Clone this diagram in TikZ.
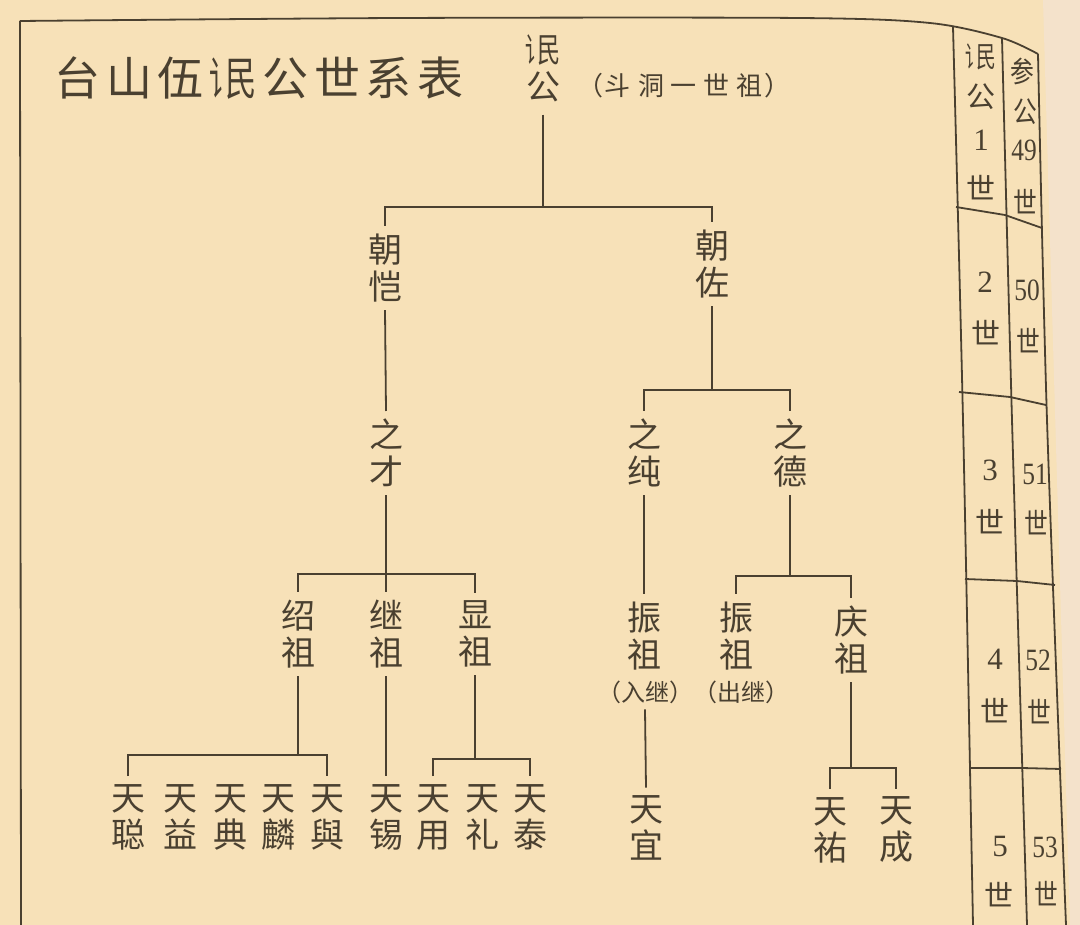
\documentclass[tikz,border=0pt]{standalone}
\usepackage{fontspec}
\usepackage{graphicx}
\newfontfamily\cjk{Noto Sans CJK SC}
\newfontfamily\numf{Liberation Serif}
\definecolor{paper}{HTML}{F7E1B8}
\definecolor{pageedge}{HTML}{F4E2CB}
\definecolor{ink}{HTML}{4A4030}
\newcommand\minchar{\mbox{\scalebox{0.55}[1]{讠}\hspace{-0.19em}\scalebox{0.68}[1]{民}}}
\newcommand\tsp{\hspace{5.5pt}}
\newcommand\nsp{\hspace{7pt}}
\tikzset{
  nm/.style={font=\cjk\fontsize{34}{37}\selectfont, text=ink, align=center, inner sep=0pt, outer sep=8pt},
  paren/.style={font=\cjk\fontsize{24}{24}\selectfont, text=ink, inner sep=0pt, outer sep=6pt},
  ln/.style={draw=ink, line width=1.8pt},
  tbt/.style={font=\cjk\fontsize{29}{29}\selectfont, text=ink, inner sep=0pt},
  tbn/.style={font=\numf\fontsize{31}{31}\selectfont, text=ink, inner sep=0pt},
  narrow/.style={xscale=0.82, transform shape}
}
\begin{document}
\begin{tikzpicture}[x=1pt,y=-1pt]
\useasboundingbox (0,0) rectangle (1080,925);
\fill[paper] (0,0) rectangle (1080,925);
\fill[pageedge] (1043,0) -- (1080,0) -- (1080,925) -- (1070,925) -- cycle;

% frame and generation table
\draw[ln] (21,925) -- (20,21);
\draw[ln] plot[smooth] coordinates {(20,21) (400,18) (800,18) (930,23) (1002,38) (1038,54)};
\draw[ln] plot[smooth] coordinates {(953,27) (963,420) (973,925)};
\draw[ln] plot[smooth] coordinates {(1002,38) (1012,420) (1027,925)};
\draw[ln] plot[smooth] coordinates {(1038,54) (1047,420) (1066,925)};
\draw[ln] (956,207) -- (1005,215) -- (1042,228);
\draw[ln] (959,392) -- (1010,397) -- (1046,405);
\draw[ln] (965,579) -- (1017,581) -- (1055,585);
\draw[ln] (970,768) -- (1022,768) -- (1061,769);

% table texts, column 1
\node[tbt] (a1) at (981,57) {\minchar};
\node[tbt] (a2) at (981,97) {公};
\node[tbn] (a3) at (981,140) {1};
\node[tbt] (a4) at (981,188) {世};
\node[tbn] (a5) at (985,282) {2};
\node[tbt] (a6) at (986,333) {世};
\node[tbn] (a7) at (990,470) {3};
\node[tbt] (a8) at (990,522) {世};
\node[tbn] (a9) at (995,659) {4};
\node[tbt] (a10) at (995,711) {世};
\node[tbn] (a11) at (1000,846) {5};
\node[tbt] (a12) at (999,895) {世};
% column 2
\node[tbt,narrow] (b1) at (1022,71) {参};
\node[tbt,narrow] (b2) at (1025,112) {公};
\node[tbn,narrow] (b3) at (1024,150) {49};
\node[tbt,narrow] (b4) at (1025,202) {世};
\node[tbn,narrow] (b5) at (1027,290) {50};
\node[tbt,narrow] (b6) at (1028,341) {世};
\node[tbn,narrow] (b7) at (1035,474) {51};
\node[tbt,narrow] (b8) at (1036,523) {世};
\node[tbn,narrow] (b9) at (1038,660) {52};
\node[tbt,narrow] (b10) at (1039,712) {世};
\node[tbn,narrow] (b11) at (1045,847) {53};
\node[tbt,narrow] (b12) at (1046,894) {世};

% title
\node[font=\cjk\fontsize{46}{46}\selectfont, text=ink, inner sep=0pt] (title) at (259,78)
  {台\tsp{}山\tsp{}伍\tsp{}\minchar{}\tsp{}公\tsp{}世\tsp{}系\tsp{}表};

% tree nodes
\node[nm, outer sep=13pt] (root) at (543,68) {\minchar\\公};
\node[font=\cjk\fontsize{26}{26}\selectfont, text=ink, inner sep=0pt] (rootnote) at (684,86)
  {（\hspace{2pt}斗\nsp{}洞\nsp{}一\nsp{}世\nsp{}祖\hspace{2pt}）};

\node[nm] (zk) at (385,268) {朝\\恺};
\node[nm] (zz) at (712,264) {朝\\佐};

\node[nm] (zc) at (386,453) {之\\才};
\node[nm] (zchun) at (644,453) {之\\纯};
\node[nm] (zde) at (790,453) {之\\德};

\node[nm] (sz) at (298,634) {绍\\祖};
\node[nm] (jz) at (386,634) {继\\祖};
\node[nm] (xz) at (475,634) {显\\祖};

\node[nm] (zr) at (644,636) {振\\祖};
\node[paren] (rj) at (645,692) {（入继）};
\node[nm] (zo) at (736,636) {振\\祖};
\node[paren] (cj) at (741,692) {（出继）};
\node[nm] (qz) at (851,640) {庆\\祖};

\node[nm] (t1) at (128,817) {天\\聪};
\node[nm] (t2) at (180,817) {天\\益};
\node[nm] (t3) at (230,817) {天\\典};
\node[nm] (t4) at (278,817) {天\\麟};
\node[nm] (t5) at (327,817) {天\\與};
\node[nm] (t6) at (386,817) {天\\锡};
\node[nm] (t7) at (433,817) {天\\用};
\node[nm] (t8) at (482,817) {天\\礼};
\node[nm] (t9) at (530,817) {天\\泰};

\node[nm] (ty) at (646,828) {天\\宜};
\node[nm] (tyou) at (830,830) {天\\祐};
\node[nm] (tc) at (896,830) {天\\成};

% bar levels
\coordinate (bar1) at (0,207);
\coordinate (bar2) at (0,390);
\coordinate (bar3) at (0,574);
\coordinate (bar4) at (0,576);
\coordinate (bar5) at (0,755);
\coordinate (bar6) at (0,759);
\coordinate (bar7) at (0,768);

% connectors
\draw[ln] (root.south) -- (root.south |- bar1) -| (zk.north);
\draw[ln] (root.south |- bar1) -| (zz.north);
\draw[ln] (zk.south) -- (zc.north);
\draw[ln] (zz.south) -- (zz.south |- bar2) -| (zchun.north);
\draw[ln] (zz.south |- bar2) -| (zde.north);
\draw[ln] (zc.south) -- (zc.south |- bar3) -| (sz.north);
\draw[ln] (zc.south |- bar3) -| (xz.north);
\draw[ln] (zc.south |- bar3) -- (jz.north);
\draw[ln] (zchun.south) -- (zr.north);
\draw[ln] (zde.south) -- (zde.south |- bar4) -| (zo.north);
\draw[ln] (zde.south |- bar4) -| (qz.north);
\draw[ln] (sz.south) -- (sz.south |- bar5);
\draw[ln] (t1.north) |- (t5.north |- bar5) -- (t5.north);
\draw[ln] (jz.south) -- (t6.north);
\draw[ln] (xz.south) -- (xz.south |- bar6);
\draw[ln] (t7.north) |- (t9.north |- bar6) -- (t9.north);
\draw[ln] (rj.south) -- (ty.north);
\draw[ln] (qz.south) -- (qz.south |- bar7);
\draw[ln] (tyou.north) |- (tc.north |- bar7) -- (tc.north);
\end{tikzpicture}
\end{document}
